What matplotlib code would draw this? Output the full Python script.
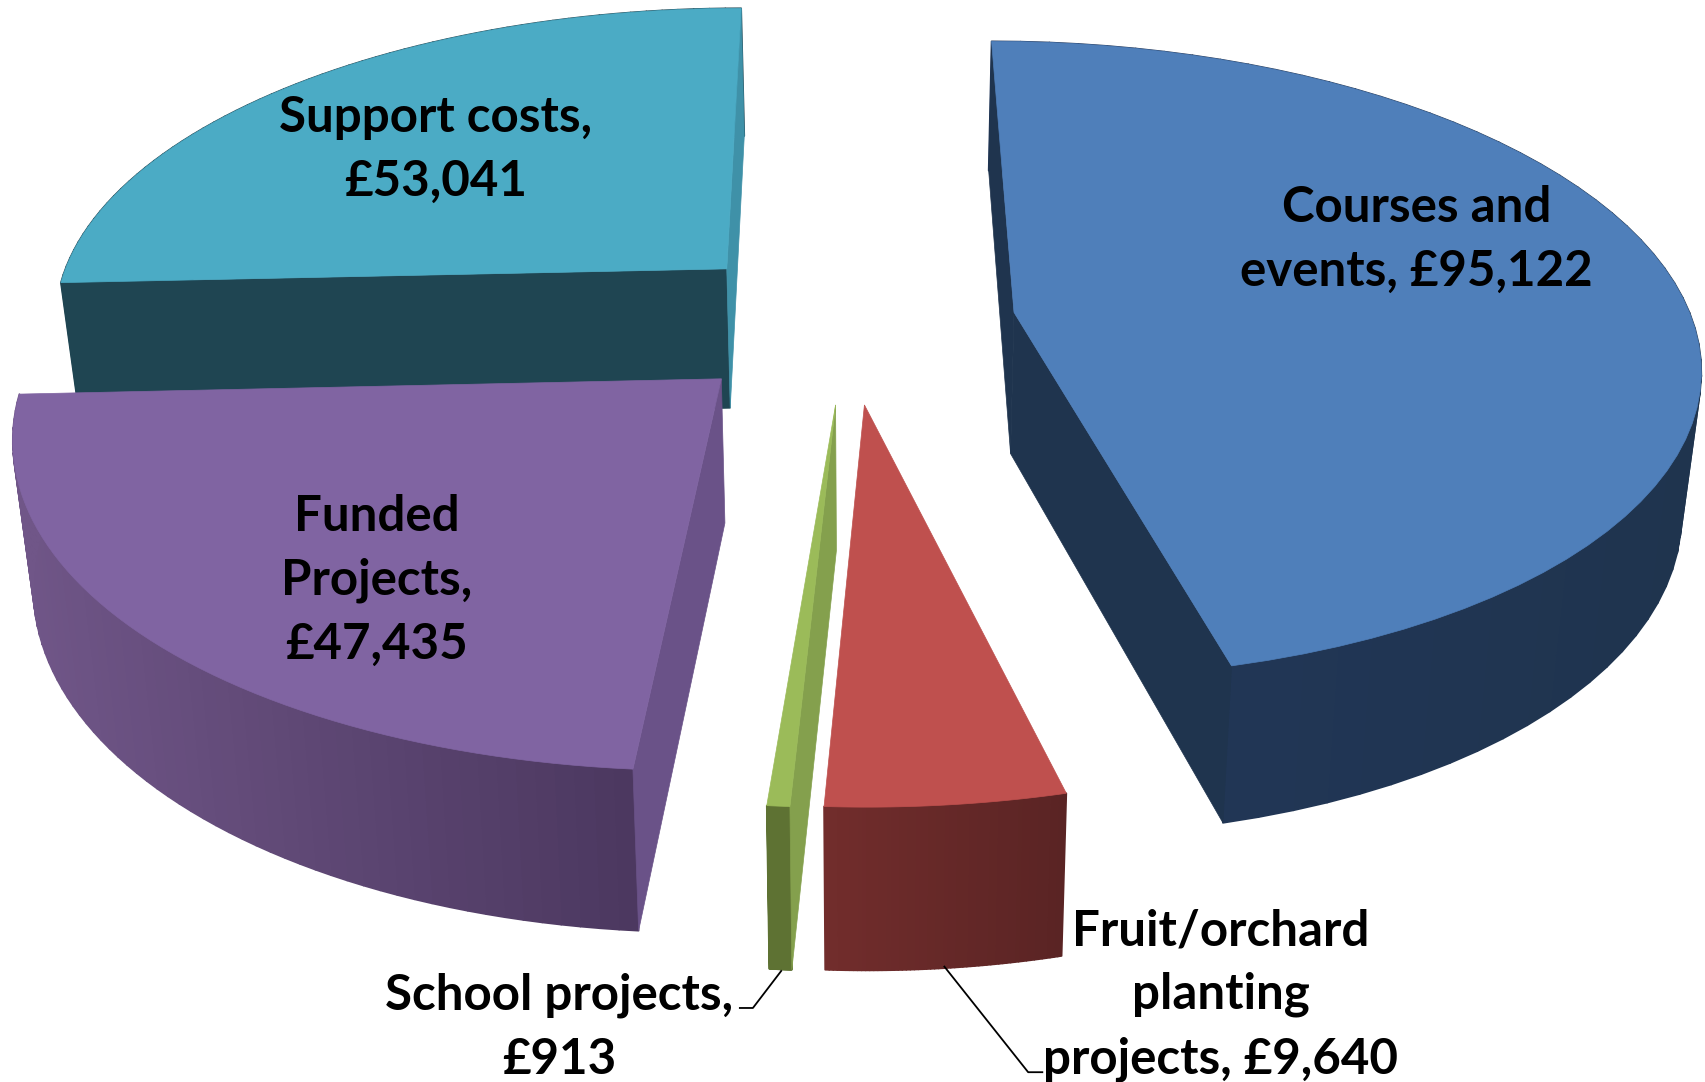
import numpy as np
import matplotlib
matplotlib.use('Agg')
import matplotlib.pyplot as plt
from matplotlib.collections import PolyCollection
from matplotlib.colors import to_rgb
from matplotlib.patches import Polygon

names = ['Courses and\nevents, £95,122', 'Fruit/orchard\nplanting\nprojects, £9,640', 'School projects,\n£913',
         'Funded\nProjects,\n£47,435', 'Support costs,\n£53,041']
values = [95122, 9640, 913, 47435, 53041]

top_colors = ['#4f7fba', '#bf504e', '#9bbb59', '#8064a2', '#4babc5']
start_cut_colors = ['#1f344e', '#5a2424', '#84a04d', '#6a5288', '#1f4552']
end_cut_colors = ['#1f344e', '#5a2424', '#5e7233', '#6a5288', '#3f91a8']
rim_left = ['#22375a', '#722d2c', '#5e7233', '#705688', '#1f4552']
rim_right = ['#1f344e', '#5a2424', '#5e7233', '#4c3860', '#1f4552']

# where each exploded slice has its point, in picture coordinates
tips = [(932, 287), (794.5, 372), (768, 372), (663, 348), (668, 247)]
label_pos = [(1302, 220), (1122, 914), (514, 944), (346, 533), (400, 137)]

# the perspective of the 3d pie
x0, y0, A, B, k, shear = 800, 300, 625, 290, 0.15, 3.5


def project(X, Y):
    w = 1 + k * Y
    return x0 + A * X / w - shear * Y, y0 - B * Y / w


def unproject(sx, sy):
    u = y0 - sy
    Y = u / (B - k * u)
    return (sx - x0 + shear * Y) * (1 + k * Y) / A, Y


def lower(sx, sy):
    return x0 + (sx - x0) * 0.976, sy * 1.0445 + 117


def side(sx1, sy1, sx2, sy2):
    lx1, ly1 = lower(sx1, sy1)
    lx2, ly2 = lower(sx2, sy2)
    return [(sx1, sy1), (sx2, sy2), (lx2, ly2), (lx1, ly1)]


def cut_shows(tx, ty, ex, ey, mx, my):
    # a cut face shows when the slice and its thickness lie on opposite sides of the edge
    lx, ly = lower(tx, ty)
    inner = (ex - tx) * (my - ty) - (ey - ty) * (mx - tx)
    down = (ex - tx) * (ly - ty) - (ey - ty) * (lx - tx)
    return inner * down < 0


fig = plt.figure(figsize=(17.06, 10.82), dpi=100)
ax = fig.add_axes([0, 0, 1, 1])
ax.set_xlim(0, 1568)
ax.set_ylim(994, 0)
ax.axis('off')

ends = 90 - np.cumsum(values) / np.sum(values) * 360
starts = np.r_[90, ends[:-1]]

# back slices first, the front ones cover them
for i in [4, 0, 3, 2, 1]:
    tx, ty = tips[i]
    cx, cy = unproject(tx, ty)
    t = np.radians(np.linspace(starts[i], ends[i], 60))
    rx, ry = project(cx + np.cos(t), cy + np.sin(t))
    mx, my = rx[30], ry[30]

    strips = [side(rx[j], ry[j], rx[j + 1], ry[j + 1]) for j in range(len(t) - 1)]
    lo, hi = rx.min(), rx.max()
    mix = (rx[:-1] - lo) / max(hi - lo, 1)
    c1, c2 = np.array(to_rgb(rim_left[i])), np.array(to_rgb(rim_right[i]))
    cols = [c1 + (c2 - c1) * m for m in mix]
    ax.add_collection(PolyCollection(strips, facecolors=cols, edgecolors=cols, linewidths=1.2))

    if cut_shows(tx, ty, rx[0], ry[0], mx, my):
        ax.add_patch(Polygon(side(tx, ty, rx[0], ry[0]), fc=start_cut_colors[i], ec=start_cut_colors[i], lw=0.5))
    if cut_shows(tx, ty, rx[-1], ry[-1], mx, my):
        ax.add_patch(Polygon(side(tx, ty, rx[-1], ry[-1]), fc=end_cut_colors[i], ec=end_cut_colors[i], lw=0.5))

    face = [(tx, ty)] + list(zip(rx, ry))
    ax.add_patch(Polygon(face, fc=top_colors[i], ec=top_colors[i], lw=0.5))

# leader lines of the two small slices
ax.plot([718, 692, 680], [892, 926, 926], color='black', lw=1.3)
ax.plot([868, 945, 958], [888, 985, 985], color='black', lw=1.3)

for name, (lx, ly) in zip(names, label_pos):
    ax.text(lx, ly, name, ha='center', va='center', fontsize=35.5, fontweight='bold',
            family='Lato', color='black', linespacing=1.51)

fig.savefig('out.png', dpi=100, facecolor='white')
